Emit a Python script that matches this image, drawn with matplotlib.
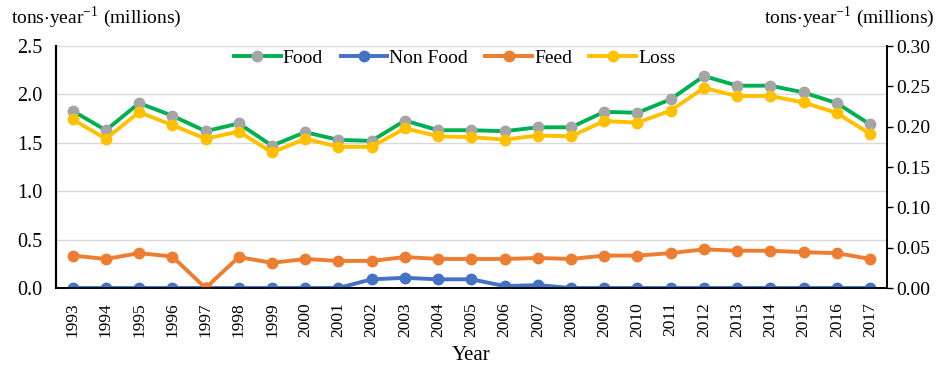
import matplotlib.pyplot as plt
import numpy as np

years = [str(y) for y in range(1993, 2018)]
food = [1.83, 1.63, 1.91, 1.78, 1.62, 1.70, 1.47, 1.61, 1.53, 1.52, 1.73, 1.63,
        1.63, 1.62, 1.66, 1.66, 1.82, 1.81, 1.95, 2.19, 2.09, 2.09, 2.02, 1.91, 1.69]
non_food = [0, 0, 0, 0, 0, 0, 0, 0, 0, 0.09, 0.105, 0.09,
            0.09, 0.02, 0.03, 0, 0, 0, 0, 0, 0, 0, 0, 0, 0]
feed = [0.335, 0.30, 0.36, 0.325, 0.0, 0.32, 0.26, 0.30, 0.28, 0.28, 0.32, 0.30,
        0.30, 0.30, 0.31, 0.30, 0.335, 0.335, 0.36, 0.40, 0.385, 0.385, 0.37, 0.36, 0.30]
loss = [0.209, 0.185, 0.218, 0.202, 0.185, 0.194, 0.168, 0.185, 0.175, 0.175, 0.198, 0.188,
        0.187, 0.184, 0.189, 0.188, 0.207, 0.205, 0.220, 0.248, 0.238, 0.238, 0.230, 0.217, 0.191]

plt.rcParams['font.family'] = ['Liberation Serif', 'DejaVu Serif']
plt.rcParams['mathtext.fontset'] = 'stix'

x = np.arange(len(years))
fig = plt.figure(figsize=(9.37, 3.66), dpi=100)
ax = fig.add_axes([0.0598, 0.2131, 0.8865, 0.6612])
ax2 = ax.twinx()

lw = 2.8
ms = 7.5
l1, = ax.plot(x, food, color='#00B050', lw=lw, marker='o', ms=ms,
              mfc='#A5A5A5', mec='#A5A5A5', label='Food', zorder=4)
l2, = ax.plot(x, non_food, color='#4472C4', lw=lw, marker='o', ms=ms,
              label='Non Food', zorder=3)
l3, = ax.plot(x, feed, color='#ED7D31', lw=lw, marker='o', ms=ms,
              label='Feed', zorder=3)
l4, = ax2.plot(x, loss, color='#FFC000', lw=lw, marker='o', ms=ms,
               label='Loss', zorder=3)

ax.set_xlim(-0.5, len(years) - 0.5)
ax.set_ylim(0, 2.5)
ax2.set_ylim(0, 0.30)
ax.set_yticks(np.arange(0, 2.51, 0.5))
ax.set_yticklabels(['%.1f' % v for v in np.arange(0, 2.51, 0.5)], fontsize=14.5)
ax2.set_yticks(np.arange(0, 0.301, 0.05))
ax2.set_yticklabels(['%.2f' % v for v in np.arange(0, 0.301, 0.05)], fontsize=14)
ax.set_xticks(x)
ax.set_xticklabels(years, rotation=90, fontsize=12.5)
ax.tick_params(axis='x', length=0, pad=10)
ax.tick_params(axis='y', length=0, pad=10)
ax2.tick_params(axis='y', length=4, pad=3, width=1)
ax.grid(axis='y', color='#D9D9D9', lw=1)
ax.set_axisbelow(True)

for a in (ax, ax2):
    a.spines['top'].set_visible(False)
    a.spines['left'].set_color('black')
    a.spines['right'].set_color('black')
    a.spines['bottom'].set_color('black')
    a.spines['left'].set_linewidth(1.5)
    a.spines['right'].set_linewidth(1.2)
    a.spines['bottom'].set_linewidth(1.2)

ax.set_xlabel('Year', fontsize=15, labelpad=7)
fig.text(0.012, 0.952, r'tons$\cdot$year$^{\mathregular{-1}}$ (millions)', fontsize=14, va='center')
fig.text(0.997, 0.952, r'tons$\cdot$year$^{\mathregular{-1}}$ (millions)', fontsize=14, va='center', ha='right')

ax.legend(handles=[l1, l2, l3, l4], loc='upper center', bbox_to_anchor=(0.48, 1.06),
          ncol=4, frameon=False, fontsize=14, handlelength=2.4, columnspacing=0.9,
          handletextpad=0.1)

fig.savefig('out.png', dpi=100)
